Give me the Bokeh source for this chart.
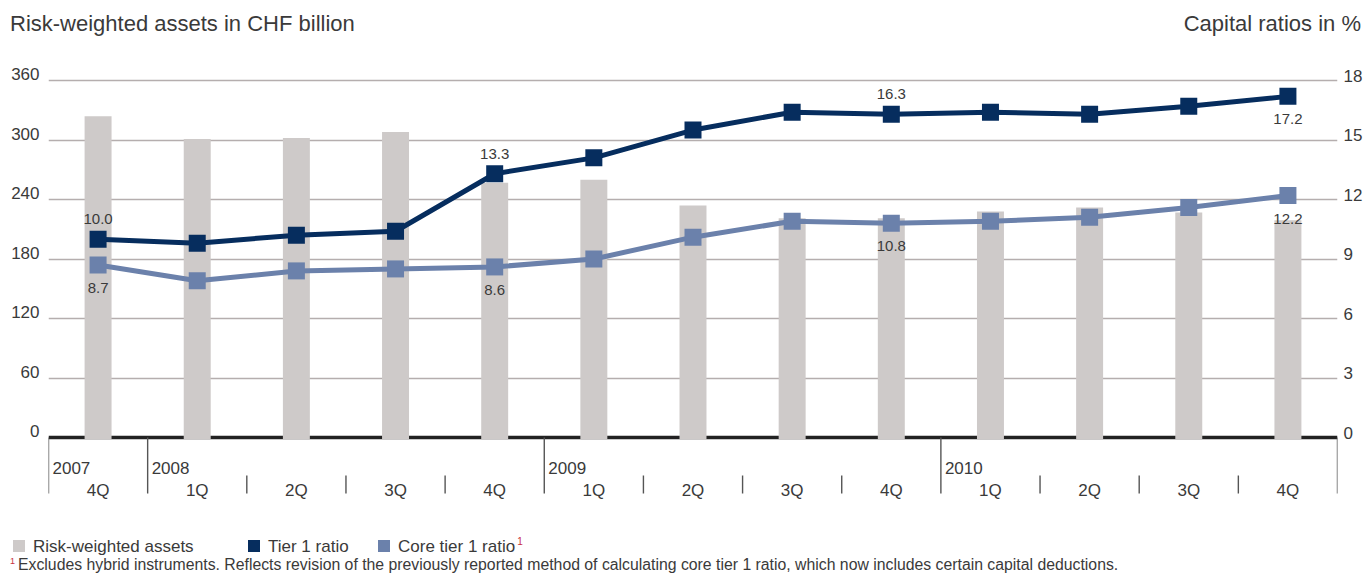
from bokeh.plotting import figure
from bokeh.layouts import column
from bokeh.models import (Range1d, LinearAxis, FixedTicker, Span, ColumnDataSource, Div, Grid)
from bokeh.core.properties import value
from bokeh.embed import file_html
from bokeh.resources import INLINE

# ---------------- data ----------------
years = ["2007", "2008", "2008", "2008", "2008", "2009", "2009", "2009", "2009",
         "2010", "2010", "2010", "2010"]
quarters = ["4Q", "1Q", "2Q", "3Q", "4Q", "1Q", "2Q", "3Q", "4Q", "1Q", "2Q", "3Q", "4Q"]
rwa = [324, 301, 302, 308, 257, 260, 234, 221, 221, 228, 232, 227, 219]
tier1 = [10.0, 9.8, 10.2, 10.4, 13.3, 14.1, 15.5, 16.4, 16.3, 16.4, 16.3, 16.7, 17.2]
core_tier1 = [8.7, 7.9, 8.4, 8.5, 8.6, 9.0, 10.1, 10.9, 10.8, 10.9, 11.1, 11.6, 12.2]
rwa_ticks = [0, 60, 120, 180, 240, 300, 360]
ratio_ticks = [0, 3, 6, 9, 12, 15, 18]
labeled_points = [0, 4, 8, 12]
tier1_label_side = ["above", "above", "above", "below"]
core_label_side = ["below", "below", "below", "below"]

title_left = "Risk-weighted assets in CHF billion"
title_right = "Capital ratios in %"
legend_labels = ["Risk-weighted assets", "Tier 1 ratio", "Core tier 1 ratio"]
footnote = ("Excludes hybrid instruments. Reflects revision of the previously reported method "
            "of calculating core tier 1 ratio, which now includes certain capital deductions.")

# ---------------- style ----------------
PAGE_W = 1365
HEAD_H = 60
FIG_H = 460
FOOT_H = 53
FONT = "Liberation Sans"
CSS_FONT = "'Liberation Sans', Arial, sans-serif"
TXT = "#3a3a3a"
BAR = "#cecac9"
NAVY = "#062d5e"
BLUE = "#6b81ab"
GRID = "#b5aeae"
SEP = "#555555"
RED = "#c8323f"

TOP_PAD_PX = 10                     # empty frame space above the 360 line
FRAME_TOP = 20 - TOP_PAD_PX         # px inside figure
UNIT_PX = 357.0 / 360.0             # px per CHF bn
RWA_MAX = rwa_ticks[-1]
RATIO_K = RWA_MAX / ratio_ticks[-1]  # left units per ratio unit
y_end = RWA_MAX + TOP_PAD_PX / UNIT_PX
y_start = y_end - (FIG_H - FRAME_TOP) / UNIT_PX
LEFT_LABEL_LIFT = 6.5               # px: tick labels sit just above their grid line
RIGHT_LABEL_LIFT = 5.0


def below_zero(px):
    return -px / UNIT_PX


n = len(quarters)
xc = [i + 0.5 for i in range(n)]

# ---------------- header ----------------
header = Div(width=PAGE_W, height=HEAD_H, margin=0, text=(
    f'<div style="position:relative;width:{PAGE_W}px;height:{HEAD_H}px;'
    f'font-family:{CSS_FONT};color:{TXT};">'
    f'<div style="position:absolute;left:10px;top:13px;font-size:22px;line-height:22px;'
    f'white-space:nowrap;">{title_left}</div>'
    f'<div style="position:absolute;right:4px;top:13px;font-size:22px;line-height:22px;'
    f'white-space:nowrap;">{title_right}</div></div>'))

# ---------------- chart ----------------
p = figure(width=PAGE_W, height=FIG_H, output_backend="svg", toolbar_location=None,
           x_range=Range1d(0, n), y_range=Range1d(y_start, y_end),
           x_axis_type=None, y_axis_type=None, min_border_left=48, min_border_right=25,
           min_border_top=FRAME_TOP, min_border_bottom=0)
p.outline_line_color = None
p.background_fill_color = "white"
p.border_fill_color = "white"
dl = LEFT_LABEL_LIFT / UNIT_PX
dr = RIGHT_LABEL_LIFT / UNIT_PX / RATIO_K
p.extra_y_ranges = {
    "ratio": Range1d(y_start / RATIO_K, y_end / RATIO_K),
    "rwa_labels": Range1d(y_start - dl, y_end - dl),
    "ratio_labels": Range1d(y_start / RATIO_K - dr, y_end / RATIO_K - dr),
}


def style_axis(a, standoff):
    a.axis_line_color = None
    a.major_tick_line_color = None
    a.minor_tick_line_color = None
    a.major_tick_out = 0
    a.major_tick_in = 0
    a.major_label_standoff = standoff
    a.major_label_text_font = FONT
    a.major_label_text_font_size = "17px"
    a.major_label_text_color = TXT


lax = LinearAxis(y_range_name="rwa_labels", ticker=FixedTicker(ticks=rwa_ticks))
style_axis(lax, 9)
p.add_layout(lax, "left")

rax = LinearAxis(y_range_name="ratio_labels", ticker=FixedTicker(ticks=ratio_ticks))
style_axis(rax, 6)
p.add_layout(rax, "right")

p.add_layout(Grid(dimension=1, ticker=FixedTicker(ticks=rwa_ticks[1:]),
                  grid_line_color=GRID, grid_line_width=1.3))

p.add_layout(Span(location=0, dimension="width", line_color="#222222",
                  line_width=3.5, level="underlay"))

src = ColumnDataSource(dict(x=xc, rwa=rwa, tier1=tier1, core=core_tier1))

p.vbar(x="x", top="rwa", bottom=below_zero(2), width=0.272, source=src,
       fill_color=BAR, line_color=None)

p.line("x", "core", source=src, y_range_name="ratio", line_color=BLUE, line_width=5)
p.scatter("x", "core", source=src, y_range_name="ratio", marker="square", size=17,
          fill_color=BLUE, line_color=None)
p.line("x", "tier1", source=src, y_range_name="ratio", line_color=NAVY, line_width=5)
p.scatter("x", "tier1", source=src, y_range_name="ratio", marker="square", size=17,
          fill_color=NAVY, line_color=None)

lx, ly, lt, lo = [], [], [], []
for series, sides in ((tier1, tier1_label_side), (core_tier1, core_label_side)):
    for idx, side in zip(labeled_points, sides):
        lx.append(xc[idx])
        ly.append(series[idx])
        lt.append(f"{series[idx]:.1f}")
        lo.append(-20 if side == "above" else 23)
p.text(x="x", y="y", text="t", y_offset="o",
       source=ColumnDataSource(dict(x=lx, y=ly, t=lt, o=lo)),
       y_range_name="ratio", text_align="center", text_baseline="middle",
       text_font=value(FONT), text_font_size="15px", text_color=TXT)

# category axis in the lower part of the frame
bounds = [0] + [i for i in range(1, n) if years[i] != years[i - 1]] + [n]
minor_bounds = [i for i in range(1, n) if i not in bounds]
p.segment(x0=bounds, x1=bounds, y0=[0] * len(bounds), y1=[below_zero(56)] * len(bounds),
          line_color=SEP, line_width=1.4)
p.segment(x0=minor_bounds, x1=minor_bounds, y0=[below_zero(38)] * len(minor_bounds),
          y1=[below_zero(56)] * len(minor_bounds), line_color=SEP, line_width=1.4)
p.text(x=bounds[:-1], y=[below_zero(30)] * (len(bounds) - 1),
       text=[years[b] for b in bounds[:-1]], x_offset=4,
       text_align="left", text_baseline="middle",
       text_font=value(FONT), text_font_size="17px", text_color=TXT)
p.text(x=xc, y=[below_zero(53)] * n, text=quarters,
       text_align="center", text_baseline="middle",
       text_font=value(FONT), text_font_size="17px", text_color=TXT)

# ---------------- footer: legend + footnote ----------------
sup = (f'<span style="color:{RED};font-size:10px;position:relative;top:-7px;'
       f'margin-left:2px;">1</span>')
items = [(13, BAR, legend_labels[0], ""), (248, NAVY, legend_labels[1], ""),
         (378, BLUE, legend_labels[2], sup)]
parts = []
for left, col, lab, extra in items:
    parts.append(f'<div style="position:absolute;left:{left}px;top:20px;width:12px;'
                 f'height:12px;background:{col};"></div>')
    parts.append(f'<div style="position:absolute;left:{left + 20}px;top:18px;font-size:17px;'
                 f'line-height:17px;white-space:nowrap;">{lab}{extra}</div>')
parts.append(f'<div style="position:absolute;left:10px;top:37px;font-size:15.8px;'
             f'line-height:15.8px;white-space:nowrap;">'
             f'<span style="color:{RED};font-size:9px;position:relative;top:-6px;'
             f'margin-right:3px;">1</span>{footnote}</div>')
footer = Div(width=PAGE_W, height=FOOT_H, margin=0, text=(
    f'<div style="position:relative;width:{PAGE_W}px;height:{FOOT_H}px;'
    f'font-family:{CSS_FONT};color:{TXT};">' + "".join(parts) + '</div>'))

layout = column(header, p, footer, spacing=0)
open("out.html", "w").write(file_html(layout, INLINE))
